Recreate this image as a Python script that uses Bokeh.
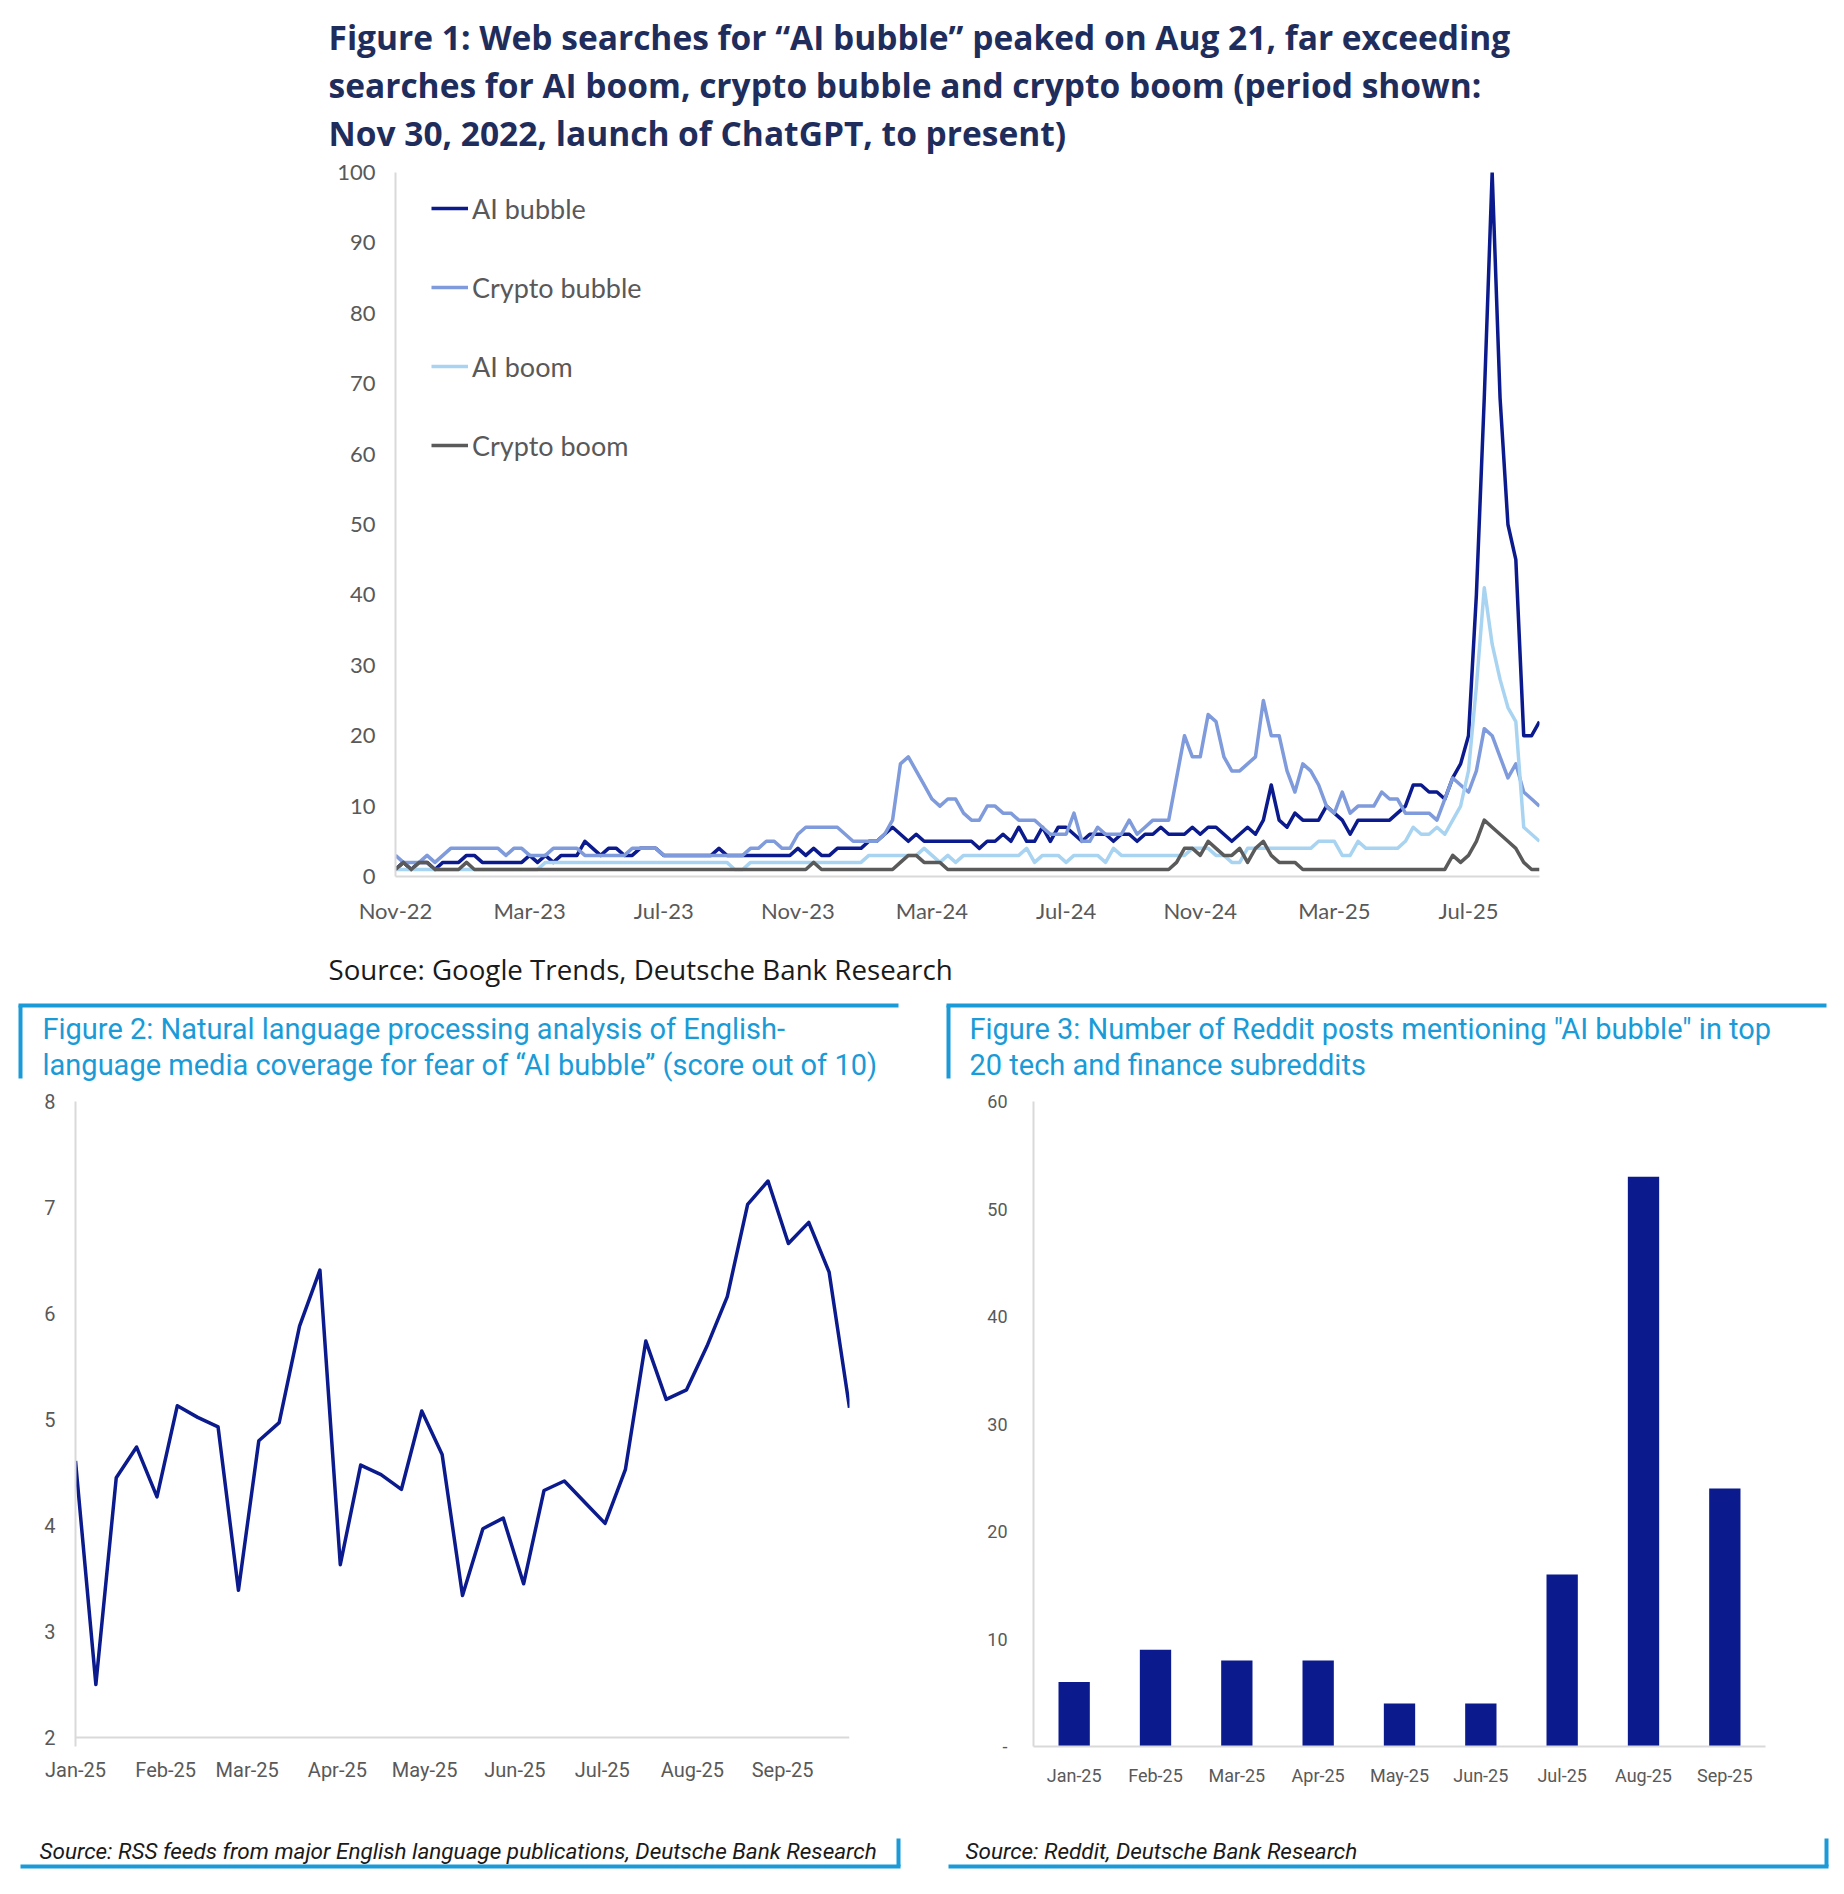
import pandas as pd
from bokeh.plotting import figure
from bokeh.models import (Range1d, FixedTicker, Legend, LegendItem, DatetimeTickFormatter,
                          MonthsTicker, FactorRange, Span)
from bokeh.layouts import row
from bokeh.core.properties import value
from bokeh.embed import file_html
from bokeh.resources import INLINE

# ---------------- data ----------------
# Figure 1: weekly Google Trends index (first week = launch of ChatGPT)
fig1_tick_labels = ["Nov-22", "Mar-23", "Jul-23", "Nov-23", "Mar-24", "Jul-24", "Nov-24", "Mar-25", "Jul-25"]
fig1_weeks_per_label = 17

ai_bubble = [1, 2, 1, 2, 2, 1, 2, 2, 2, 3, 3, 2, 2, 2, 2, 2, 2, 3, 2, 3, 2, 3,
             3, 3, 5, 4, 3, 4, 4, 3, 3, 4, 4, 4, 3, 3, 3, 3, 3, 3, 3, 4, 3, 3, 3, 3, 3, 3, 3,
             3, 3, 4, 3, 4, 3, 3, 4, 4, 4, 4, 5, 5, 6, 7, 6, 5, 6, 5, 5, 5, 5, 5,
             5, 5, 4, 5, 5, 6, 5, 7, 5, 5, 7, 5, 7, 7, 6, 5, 6, 6, 6, 5, 6, 6, 5, 6, 6, 7,
             6, 6, 6, 7, 6, 7, 7, 6, 5, 6, 7, 6, 8, 13, 8, 7, 9, 8, 8, 8,
             10, 9, 8, 6, 8, 8, 8, 8, 8, 9, 10, 13, 13, 12, 12, 11, 14, 16, 20,
             40, 68, 100, 68, 50, 45, 20, 20, 22]
crypto_bubble = [3, 2, 2, 2, 3, 2, 3, 4, 4, 4, 4, 4, 4, 4, 3, 4, 4, 3, 3, 3, 4, 4,
                 4, 4, 3, 3, 3, 3, 3, 3, 4, 4, 4, 4, 3, 3, 3, 3, 3, 3, 3, 3, 3, 3, 3, 4, 4, 5, 5,
                 4, 4, 6, 7, 7, 7, 7, 7, 6, 5, 5, 5, 5, 6, 8, 16, 17, 15, 13, 11, 10, 11, 11,
                 9, 8, 8, 10, 10, 9, 9, 8, 8, 8, 7, 6, 6, 6, 9, 5, 5, 7, 6, 6, 6, 8, 6, 7, 8, 8,
                 8, 14, 20, 17, 17, 23, 22, 17, 15, 15, 16, 17, 25, 20, 20, 15, 12, 16, 15, 13,
                 10, 9, 12, 9, 10, 10, 10, 12, 11, 11, 9, 9, 9, 9, 8, 11, 14, 13, 12,
                 15, 21, 20, 17, 14, 16, 12, 11, 10]
ai_boom = [1, 1, 1, 1, 1, 1, 1, 1, 1, 1, 1, 1, 1, 1, 1, 1, 1, 1, 1, 2, 2, 2,
           2, 2, 2, 2, 2, 2, 2, 2, 2, 2, 2, 2, 2, 2, 2, 2, 2, 2, 2, 2, 2, 1, 1, 2, 2, 2, 2,
           2, 2, 2, 2, 2, 2, 2, 2, 2, 2, 2, 3, 3, 3, 3, 3, 3, 3, 4, 3, 2, 3, 2,
           3, 3, 3, 3, 3, 3, 3, 3, 4, 2, 3, 3, 3, 2, 3, 3, 3, 3, 2, 4, 3, 3, 3, 3, 3, 3,
           3, 3, 3, 4, 4, 4, 3, 3, 2, 2, 4, 4, 4, 4, 4, 4, 4, 4, 4, 5,
           5, 5, 3, 3, 5, 4, 4, 4, 4, 4, 5, 7, 6, 6, 7, 6, 8, 10, 15,
           27, 41, 33, 28, 24, 22, 7, 6, 5]
crypto_boom = [1, 2, 1, 2, 2, 1, 1, 1, 1, 2, 1, 1, 1, 1, 1, 1, 1, 1, 1, 1, 1, 1,
               1, 1, 1, 1, 1, 1, 1, 1, 1, 1, 1, 1, 1, 1, 1, 1, 1, 1, 1, 1, 1, 1, 1, 1, 1, 1, 1,
               1, 1, 1, 1, 2, 1, 1, 1, 1, 1, 1, 1, 1, 1, 1, 2, 3, 3, 2, 2, 2, 1, 1,
               1, 1, 1, 1, 1, 1, 1, 1, 1, 1, 1, 1, 1, 1, 1, 1, 1, 1, 1, 1, 1, 1, 1, 1, 1, 1,
               1, 2, 4, 4, 3, 5, 4, 3, 3, 4, 2, 4, 5, 3, 2, 2, 2, 1, 1, 1,
               1, 1, 1, 1, 1, 1, 1, 1, 1, 1, 1, 1, 1, 1, 1, 1, 3, 2, 3,
               5, 8, 7, 6, 5, 4, 2, 1, 1]
fig1_series_names = ["AI bubble", "Crypto bubble", "AI boom", "Crypto boom"]

# Figure 2: weekly NLP "fear of AI bubble" score (out of 10)
fig2_start = "2025-01-01"
fig2_score = [4.61, 2.50, 4.45, 4.74, 4.27, 5.13, 5.02, 4.93, 3.39, 4.80,
              4.97, 5.88, 6.41, 3.63, 4.57, 4.48, 4.34, 5.08, 4.67, 3.34,
              3.97, 4.07, 3.45, 4.33, 4.42, 4.22, 4.02, 4.53, 5.74, 5.19,
              5.28, 5.69, 6.16, 7.03, 7.25, 6.66, 6.86, 6.39, 5.11]

# Figure 3: monthly Reddit posts
fig3_months = ["Jan-25", "Feb-25", "Mar-25", "Apr-25", "May-25", "Jun-25", "Jul-25", "Aug-25", "Sep-25"]
fig3_posts = [6, 9, 8, 8, 4, 4, 16, 53, 24]

# ---------------- text ----------------
title1 = ["Figure 1: Web searches for \u201cAI bubble\u201d peaked on Aug 21, far exceeding",
          "searches for AI boom, crypto bubble and crypto boom (period shown:",
          "Nov 30, 2022, launch of ChatGPT, to present)"]
source1 = "Source: Google Trends, Deutsche Bank Research"
title2 = ["Figure 2: Natural language processing analysis of English-",
          "language media coverage for fear of \u201cAI bubble\u201d (score out of 10)"]
source2 = "Source: RSS feeds from major English language publications, Deutsche Bank Research"
title3 = ["Figure 3: Number of Reddit posts mentioning \"AI bubble\" in top",
          "20 tech and finance subreddits"]
source3 = "Source: Reddit, Deutsche Bank Research"

# ---------------- styles ----------------
NAVY = "#0b1a8c"
LINE_COLORS = [NAVY, "#7f9bdc", "#a9d4f1", "#5a5a5a"]
TITLE1_COLOR = "#1f2d5c"
ACCENT = "#1a9bd7"
TICK_COLOR = "#595959"
AXIS_COLOR = "#d9d9d9"
FONT = "Roboto"
W = 1844
HALF = 922


def deco_fig(w, h):
    p = figure(width=w, height=h, x_range=Range1d(0, w), y_range=Range1d(h, 0),
               output_backend="svg", toolbar_location=None, min_border=0,
               x_axis_location=None, y_axis_location=None)
    p.grid.visible = False
    p.outline_line_color = None
    return p


def style_axis(ax, font, size):
    ax.major_tick_line_color = None
    ax.minor_tick_line_color = None
    ax.major_tick_out = 0
    ax.major_tick_in = 0
    ax.axis_line_color = AXIS_COLOR
    ax.axis_line_width = 2
    ax.major_label_text_font = font
    ax.major_label_text_font_size = size
    ax.major_label_text_color = TICK_COLOR


# ---- Figure 1 title ----
t1 = deco_fig(W, 157)
t1.text(x=[328] * 3, y=[36, 84, 132], text=title1, text_font=value("Open Sans"), text_font_size="33.5px",
        text_font_style="bold", text_color=TITLE1_COLOR, text_baseline="middle", text_align="left")

# ---- Figure 1 chart ----
n1 = len(ai_bubble)
weeks = list(range(n1))
c1 = figure(width=W, height=778, x_range=Range1d(0, n1 - 1), y_range=Range1d(0, 100),
            output_backend="svg", toolbar_location=None,
            min_border_left=395, min_border_right=W - 1539, min_border_top=15, min_border_bottom=59)
c1.grid.visible = False
c1.outline_line_color = None
renderers = []
for series, col in zip([ai_bubble, crypto_bubble, ai_boom, crypto_boom], LINE_COLORS):
    renderers.append(c1.line(weeks, series, line_color=col, line_width=3.5, line_join="round"))
style_axis(c1.xaxis[0], "Lato", "22px")
style_axis(c1.yaxis[0], "Lato", "22px")
tick_pos = [i * fig1_weeks_per_label for i in range(len(fig1_tick_labels))]
c1.xaxis.ticker = FixedTicker(ticks=tick_pos)
c1.xaxis.major_label_overrides = {t: lab for t, lab in zip(tick_pos, fig1_tick_labels)}
c1.xaxis.major_label_standoff = 20
c1.yaxis.ticker = FixedTicker(ticks=list(range(0, 101, 10)))
c1.yaxis.major_label_standoff = 20
legend = Legend(items=[LegendItem(label=nm, renderers=[r]) for nm, r in zip(fig1_series_names, renderers)],
                location=(36, 411), orientation="vertical",
                label_text_font="Lato", label_text_font_size="27px", label_text_color=TICK_COLOR,
                glyph_width=37, glyph_height=20, label_height=40, label_standoff=4, spacing=39,
                padding=0, margin=0, border_line_color=None, background_fill_alpha=0)
c1.add_layout(legend)

# ---- Figure 1 source ----
s1 = deco_fig(W, 60)
s1.text(x=[328], y=[33], text=[source1], text_font=value("Open Sans"), text_font_size="27.7px",
        text_color="#1a1a1a", text_baseline="middle", text_align="left")

# ---- Figures 2 & 3 titles with framing rule ----
t23 = deco_fig(W, 90)
for x0, tx, lines in [(20, 42, title2), (948, 969, title3)]:
    t23.line(x=[x0 - 2, x0 + 878], y=[10, 10], line_color=ACCENT, line_width=4)
    t23.line(x=[x0, x0], y=[10, 83], line_color=ACCENT, line_width=4)
    t23.text(x=[tx] * len(lines), y=[33, 69][:len(lines)], text=lines, text_font=value(FONT),
             text_font_size="29px", text_color=ACCENT, text_baseline="middle", text_align="left")

# ---- Figure 2 chart (frame shares its bottom edge with Figure 3; baseline rule at y=2) ----
dates2 = [d.to_pydatetime() for d in pd.date_range(fig2_start, periods=len(fig2_score), freq="7D")]
c2 = figure(width=HALF, height=730, x_axis_type="datetime",
            x_range=Range1d(dates2[0], dates2[-1]), y_range=Range1d(2 - 9 / 106, 8),
            output_backend="svg", toolbar_location=None,
            min_border_left=75, min_border_right=73, min_border_top=16, min_border_bottom=69)
c2.grid.visible = False
c2.outline_line_color = None
c2.line(dates2, fig2_score, line_color=NAVY, line_width=3.5, line_join="round")
style_axis(c2.xaxis[0], FONT, "20px")
style_axis(c2.yaxis[0], FONT, "20px")
c2.xaxis.axis_line_color = None
c2.add_layout(Span(location=2, dimension="width", line_color=AXIS_COLOR, line_width=2))
c2.xaxis.ticker = MonthsTicker(months=list(range(12)))
c2.xaxis.formatter = DatetimeTickFormatter(days="%b-%y", months="%b-%y", years="%b-%y")
c2.xaxis.major_label_standoff = 11
c2.yaxis.ticker = FixedTicker(ticks=[2, 3, 4, 5, 6, 7, 8])
c2.yaxis.major_label_standoff = 20

# ---- Figure 3 chart ----
c3 = figure(width=HALF, height=730, x_range=FactorRange(factors=fig3_months), y_range=Range1d(0, 60),
            output_backend="svg", toolbar_location=None,
            min_border_left=111, min_border_right=79, min_border_top=16, min_border_bottom=69)
c3.grid.visible = False
c3.outline_line_color = None
c3.vbar(x=fig3_months, top=fig3_posts, width=0.385, fill_color=NAVY, line_color=None)
style_axis(c3.xaxis[0], FONT, "18px")
style_axis(c3.yaxis[0], FONT, "18px")
c3.yaxis.ticker = FixedTicker(ticks=[0, 10, 20, 30, 40, 50, 60])
c3.yaxis.major_label_overrides = {0: "-"}
c3.yaxis.major_label_standoff = 26
c3.xaxis.major_label_standoff = 18

# ---- Figures 2 & 3 sources with framing rule ----
s23 = deco_fig(W, 65)
for x0, tx, txt in [(20, 39, source2), (948, 965, source3)]:
    s23.line(x=[x0, x0 + 880], y=[51, 51], line_color=ACCENT, line_width=4)
    s23.line(x=[x0 + 878, x0 + 878], y=[23, 51], line_color=ACCENT, line_width=4)
    s23.text(x=[tx], y=[35], text=[txt], text_font=value(FONT), text_font_size="22.5px",
             text_font_style="italic", text_color="#1a1a1a", text_baseline="middle", text_align="left")

roots = [t1, c1, s1, t23, row(c2, c3), s23]
open("out.html", "w").write(file_html(roots, INLINE))
